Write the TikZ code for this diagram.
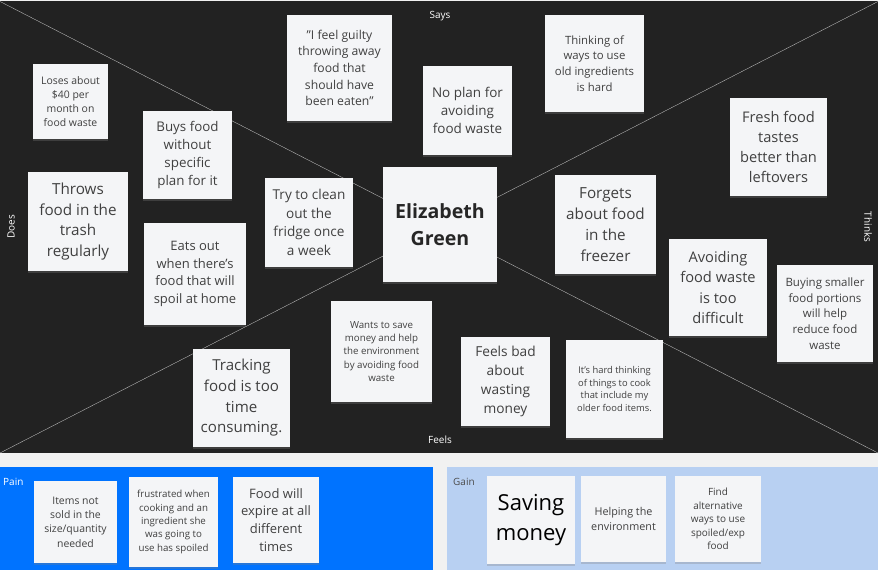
\documentclass[tikz,border=0pt]{standalone}
\usepackage{fontspec}
\setmainfont{Open Sans}[Ligatures=ResetAll]
\usetikzlibrary{shadows}
\definecolor{board color}{HTML}{222222}
\definecolor{page color}{HTML}{F1F1F1}
\definecolor{note color}{HTML}{F4F5F7}
\definecolor{note text}{HTML}{404040}
\definecolor{pain color}{HTML}{0073FF}
\definecolor{gain color}{HTML}{B8D0F2}
\colorlet{gain label}{black!70}
\tikzset{sticky/.style={fill=note color, text=note text, align=center, inner sep=0pt,
    drop shadow={shadow xshift=0pt, shadow yshift=-1.5pt, opacity=0.3}}}
\tikzset{quadrant/.style={text=white, inner sep=0pt, font=\fontsize{8.5}{10}\selectfont}}
\tikzset{divider/.style={draw=gray!50, line width=0.3pt}}
\newcommand{\notefont}[2]{\fontsize{#1}{#2}\selectfont}

\begin{document}
\begin{tikzpicture}[x=0.03cm, y=-0.03cm]
  % page and board
  \fill[page color] (0,0) rectangle (878,570);
  \useasboundingbox (0,0) rectangle (878,570);
  \fill[board color] (0,1.5) rectangle (878,453);
  \coordinate (top left) at (0,1.5);
  \coordinate (top right) at (878,1.5);
  \coordinate (bottom left) at (0,453);
  \coordinate (bottom right) at (878,453);
  \draw[divider] (top left) -- (bottom right);
  \draw[divider] (top right) -- (bottom left);

  % quadrant names
  \node[quadrant] (says) at (440,16) {Says};
  \node[quadrant] (feels) at (440,440) {Feels};
  \node[quadrant, rotate=90] (does) at (11,227) {Does};
  \node[quadrant, rotate=-90] (thinks) at (868,227) {Thinks};

  % persona
  \node[sticky, minimum width=3.42cm, minimum height=3.45cm, text=black!85,
    font=\bfseries\notefont{16.7}{22.8}] (persona) at (440,224.5) {Elizabeth\\Green};

  % does
  \node[sticky, minimum width=2.25cm, minimum height=2.25cm, font=\notefont{8.9}{12.1}]
    (loses) at (70.5,101.5) {Loses about\\\$40 per\\month on\\food waste};
  \node[sticky, minimum width=2.67cm, minimum height=2.64cm, font=\notefont{11.4}{15.5}]
    (buys) at (187.5,155) {Buys food\\without\\specific\\plan for it};
  \node[sticky, minimum width=3.0cm, minimum height=2.97cm, font=\notefont{13}{17.8}]
    (throws) at (78,221.5) {Throws\\food in the\\trash\\regularly};
  \node[sticky, minimum width=3.06cm, minimum height=3.06cm, font=\notefont{11.1}{15.2}]
    (eats out) at (195,274) {Eats out\\when there's\\food that will\\spoil at home};
  \node[sticky, minimum width=2.64cm, minimum height=2.67cm, font=\notefont{11.6}{15.9}]
    (clean) at (309,222.5) {Try to clean\\out the\\fridge once\\a week};

  % says
  \node[sticky, minimum width=3.15cm, minimum height=3.18cm, font=\notefont{10.4}{14.2}]
    (guilty) at (339.5,68) {"I feel guilty\\throwing away\\food that\\should have\\been eaten"};
  \node[sticky, minimum width=2.67cm, minimum height=2.67cm, font=\notefont{11.5}{15.6}]
    (no plan) at (467.5,110.5) {No plan for\\avoiding\\food waste};
  \node[sticky, minimum width=2.97cm, minimum height=2.91cm, font=\notefont{9.7}{13.3}]
    (thinking) at (594.5,63.5) {Thinking of\\ways to use\\old ingredients\\is hard};

  % thinks
  \node[sticky, minimum width=2.91cm, minimum height=2.94cm, font=\notefont{12.5}{17.1}]
    (fresh) at (778.5,147) {Fresh food\\tastes\\better than\\leftovers};
  \node[sticky, minimum width=3.03cm, minimum height=2.97cm, font=\notefont{13}{17.8}]
    (forgets) at (605.5,224.5) {Forgets\\about food\\in the\\freezer};
  \node[sticky, minimum width=2.94cm, minimum height=2.91cm, font=\notefont{12.5}{17.1}]
    (avoiding) at (718,287.5) {Avoiding\\food waste\\is too\\difficult};
  \node[sticky, minimum width=2.88cm, minimum height=2.91cm, font=\notefont{9.8}{13.4}]
    (smaller) at (825,313.5) {Buying smaller\\food portions\\will help\\reduce food\\waste};

  % feels
  \node[sticky, minimum width=2.91cm, minimum height=2.94cm, font=\notefont{12.9}{17.6}]
    (tracking) at (241.5,398) {Tracking\\food is too\\time\\consuming.};
  \node[sticky, minimum width=3.03cm, minimum height=3.03cm, font=\notefont{8.3}{11.4}]
    (wants) at (381.5,351.5) {Wants to save\\money and help\\the environment\\by avoiding food\\waste};
  \node[sticky, minimum width=2.67cm, minimum height=2.67cm, font=\notefont{11.7}{16}]
    (feels bad) at (505.5,381.5) {Feels bad\\about\\wasting\\money};
  \node[sticky, minimum width=2.91cm, minimum height=2.94cm, font=\notefont{8}{10.9}]
    (hard cook) at (614.5,389) {It's hard thinking\\of things to cook\\that include my\\older food items.};

  % pain
  \fill[pain color] (0,467) rectangle (433,570);
  \node[anchor=west, text=white, inner sep=0pt, font=\notefont{8.5}{10}] (pain) at (3,482) {Pain};
  \node[sticky, minimum width=2.49cm, minimum height=2.46cm, font=\notefont{8.9}{12.2}]
    (items) at (75.5,522) {Items not\\sold in the\\size/quantity\\needed};
  \node[sticky, minimum width=2.67cm, minimum height=2.70cm, font=\notefont{8.3}{11.4}]
    (frustrated) at (173.5,522) {frustrated when\\cooking and an\\ingredient she\\was going to\\use has spoiled};
  \node[sticky, minimum width=2.58cm, minimum height=2.58cm, font=\notefont{11.1}{15.2}]
    (expire) at (276,520) {Food will\\expire at all\\different\\times};

  % gain
  \fill[gain color] (447,467) rectangle (878,570);
  \node[anchor=west, text=gain label, inner sep=0pt, font=\notefont{8.5}{10}] (gain) at (453,482) {Gain};
  \node[sticky, minimum width=2.64cm, minimum height=2.64cm, text=black, font=\notefont{18.8}{25.6}]
    (saving) at (531,520) {Saving\\money};
  \node[sticky, minimum width=2.55cm, minimum height=2.58cm, font=\notefont{9.2}{12.5}]
    (helping) at (623.5,519) {Helping the\\environment};
  \node[sticky, minimum width=2.58cm, minimum height=2.58cm, font=\notefont{8.5}{11.6}]
    (find) at (718,519) {Find\\alternative\\ways to use\\spoiled/exp\\food};
\end{tikzpicture}
\end{document}
